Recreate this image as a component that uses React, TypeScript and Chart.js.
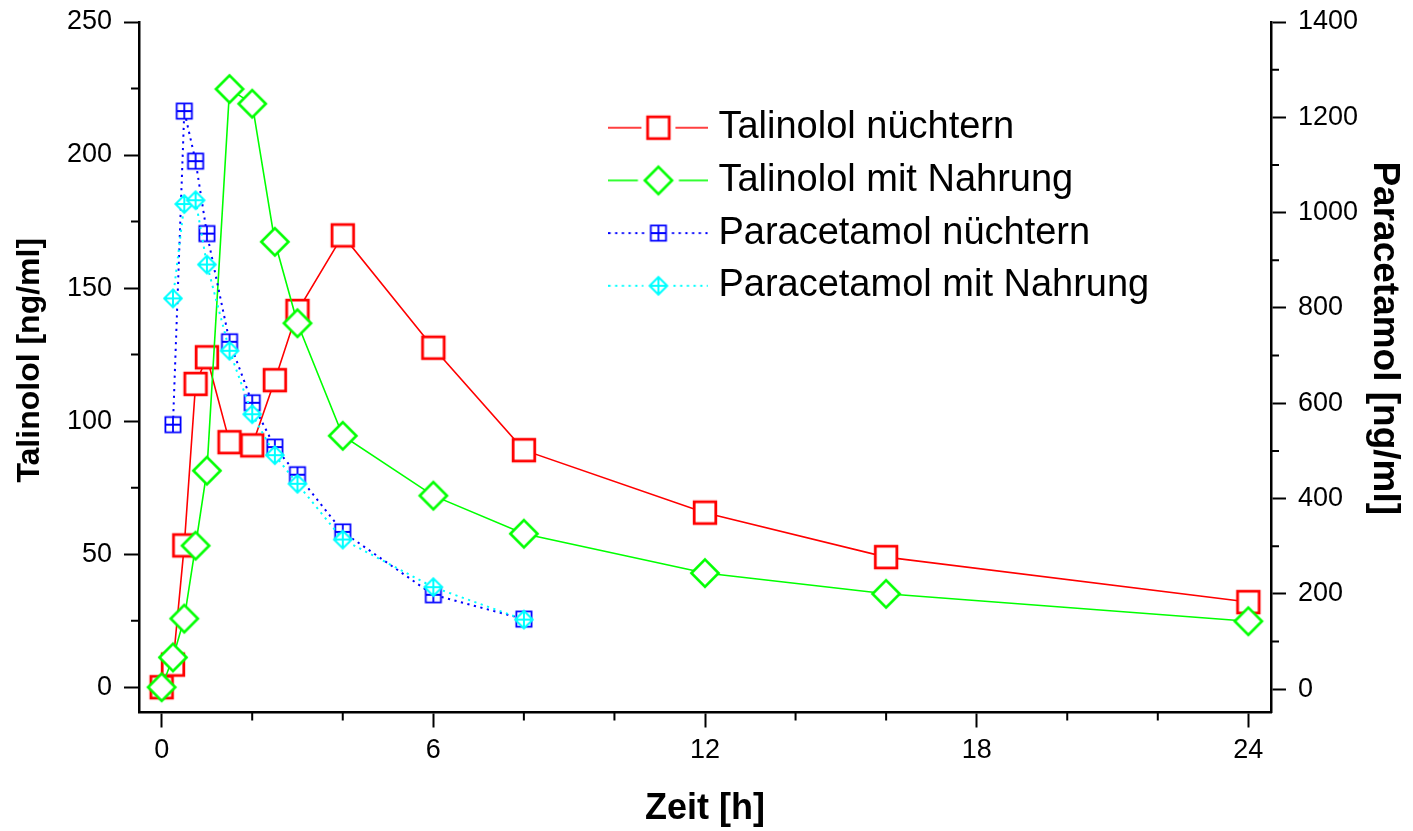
import React, { useEffect, useRef } from 'react';
import { Chart, registerables } from 'chart.js';

Chart.register(...registerables);

// ---------- data ----------
const timeTalinolol = [0, 0.25, 0.5, 0.75, 1, 1.5, 2, 2.5, 3, 4, 6, 8, 12, 16, 24];
const talinololNuechtern = [0, 8.5, 53.3, 114, 124, 92.1, 90.9, 115.4, 141.4, 169.8, 127.6, 89.1, 65.6, 48.9, 32];
const talinololNahrung = [0, 11.2, 25.8, 53.2, 81.4, 224.8, 219.3, 167.4, 136.8, 94.5, 72, 57.7, 42.9, 35.1, 24.8];

const timeParacetamol = [0.25, 0.5, 0.75, 1, 1.5, 2, 2.5, 3, 4, 6, 8];
const paracetamolNuechtern = [555, 1213, 1108, 956, 729, 601, 508, 450, 330, 198, 147];
const paracetamolNahrung = [820, 1018, 1026, 891, 710, 577, 491, 431, 314, 214, 146];

const seriesLabels = ['Talinolol nüchtern', 'Talinolol mit Nahrung', 'Paracetamol nüchtern', 'Paracetamol mit Nahrung'];

const xTickValues = [0, 6, 12, 18, 24];
const xMinorTickValues = [2, 4, 8, 10, 14, 16, 20, 22];
const leftTickValues = [0, 50, 100, 150, 200, 250];
const leftMinorTickValues = [25, 75, 125, 175, 225];
const rightTickValues = [0, 200, 400, 600, 800, 1000, 1200, 1400];
const rightMinorTickValues = [100, 300, 500, 700, 900, 1100, 1300];

const xTitle = 'Zeit [h]';
const leftTitle = 'Talinolol [ng/ml]';
const rightTitle = 'Paracetamol [ng/ml]';

// ---------- styles ----------
const RED = '#ff0000';
const GREEN = '#00ff00';
const BLUE = '#0000ff';
const CYAN = '#00ffff';
const FONT = "'Liberation Sans', Arial, Helvetica, sans-serif";

type Kind = 'square' | 'diamond' | 'squareCross' | 'diamondCross';

function paintMarker(ctx: CanvasRenderingContext2D, kind: Kind, color: string, cx: number, cy: number) {
  ctx.save();
  ctx.setLineDash([]);
  ctx.lineJoin = 'miter';
  ctx.fillStyle = '#ffffff';
  ctx.strokeStyle = color;
  if (kind === 'square') {
    const h = 10.8;
    ctx.lineWidth = 2.8;
    ctx.beginPath();
    ctx.rect(cx - h, cy - h, 2 * h, 2 * h);
    ctx.fill();
    ctx.stroke();
  } else if (kind === 'diamond') {
    const h = 13.6;
    ctx.lineWidth = 2.6;
    ctx.beginPath();
    ctx.moveTo(cx, cy - h);
    ctx.lineTo(cx + h, cy);
    ctx.lineTo(cx, cy + h);
    ctx.lineTo(cx - h, cy);
    ctx.closePath();
    ctx.fill();
    ctx.stroke();
  } else if (kind === 'squareCross') {
    const h = 7.6;
    ctx.lineWidth = 1.8;
    ctx.beginPath();
    ctx.rect(cx - h, cy - h, 2 * h, 2 * h);
    ctx.fill();
    ctx.stroke();
    ctx.beginPath();
    ctx.moveTo(cx - h, cy);
    ctx.lineTo(cx + h, cy);
    ctx.moveTo(cx, cy - h);
    ctx.lineTo(cx, cy + h);
    ctx.stroke();
  } else {
    const h = 8.8;
    ctx.lineWidth = 2;
    ctx.beginPath();
    ctx.moveTo(cx, cy - h);
    ctx.lineTo(cx + h, cy);
    ctx.lineTo(cx, cy + h);
    ctx.lineTo(cx - h, cy);
    ctx.closePath();
    ctx.fill();
    ctx.stroke();
    ctx.beginPath();
    ctx.moveTo(cx - h, cy);
    ctx.lineTo(cx + h, cy);
    ctx.moveTo(cx, cy - h);
    ctx.lineTo(cx, cy + h);
    ctx.stroke();
  }
  ctx.restore();
}

function makeMarker(kind: Kind, color: string, size: number) {
  const c = document.createElement('canvas');
  c.width = size;
  c.height = size;
  const ctx = c.getContext('2d') as CanvasRenderingContext2D;
  paintMarker(ctx, kind, color, size / 2, size / 2);
  return c;
}

function makeLegendSample(kind: Kind, color: string, dash: number[], lw: number, half: number) {
  const c = document.createElement('canvas');
  c.width = 100;
  c.height = 40;
  const ctx = c.getContext('2d') as CanvasRenderingContext2D;
  const cx = 50;
  const cy = 20;
  const gap = 5;
  ctx.strokeStyle = color;
  ctx.lineWidth = lw;
  ctx.setLineDash(dash);
  ctx.beginPath();
  ctx.moveTo(0, cy);
  ctx.lineTo(cx - half - gap, cy);
  ctx.stroke();
  ctx.beginPath();
  ctx.moveTo(cx + half + gap, cy);
  ctx.lineTo(100, cy);
  ctx.stroke();
  paintMarker(ctx, kind, color, cx, cy);
  return c;
}

// shift a scale's own title along the axis (the title is still drawn by Chart.js)
function shiftTitle(scale: any, dy: number) {
  if (scale.__titleShifted) return;
  const orig = Object.getPrototypeOf(scale).drawTitle;
  scale.drawTitle = function () {
    this.ctx.save();
    this.ctx.translate(0, dy);
    orig.call(this);
    this.ctx.restore();
  };
  scale.__titleShifted = true;
}

export default function App() {
  const canvasRef = useRef<HTMLCanvasElement | null>(null);

  useEffect(() => {
    const canvas = canvasRef.current;
    if (!canvas) return;

    const markers = [
      makeMarker('square', RED, 28),
      makeMarker('diamond', GREEN, 34),
      makeMarker('squareCross', BLUE, 20),
      makeMarker('diamondCross', CYAN, 24),
    ];
    const legendSamples = [
      makeLegendSample('square', RED, [], 1.6, 12),
      makeLegendSample('diamond', GREEN, [], 1.6, 15.5),
      makeLegendSample('squareCross', BLUE, [2.2, 4.5], 2, 8.5),
      makeLegendSample('diamondCross', CYAN, [2.2, 4.5], 2, 10),
    ];

    const minorTicks = {
      id: 'minorTicks',
      afterDraw(chart: any) {
        const { ctx, chartArea } = chart;
        const xs = chart.scales.x;
        const yl = chart.scales.y;
        const yr = chart.scales.y2;
        ctx.save();
        ctx.strokeStyle = '#000';
        ctx.lineWidth = 2;
        ctx.beginPath();
        xMinorTickValues.forEach((v) => {
          const px = xs.getPixelForValue(v);
          ctx.moveTo(px, chartArea.bottom);
          ctx.lineTo(px, chartArea.bottom + 8);
        });
        leftMinorTickValues.forEach((v) => {
          const py = yl.getPixelForValue(v);
          ctx.moveTo(chartArea.left, py);
          ctx.lineTo(chartArea.left - 8, py);
        });
        rightMinorTickValues.forEach((v) => {
          const py = yr.getPixelForValue(v);
          ctx.moveTo(chartArea.right, py);
          ctx.lineTo(chartArea.right + 8, py);
        });
        ctx.stroke();
        ctx.restore();
      },
    };

    const legendPlacer = {
      id: 'legendPlacer',
      afterLayout(chart: any) {
        const lg = chart.legend;
        if (!lg) return;
        const w = lg.width;
        const h = lg.height;
        lg.left = 602.7;
        lg.top = 94;
        lg.right = lg.left + w;
        lg.bottom = lg.top + h;
      },
    };

    const axisGrid = {
      display: true,
      drawOnChartArea: false,
      drawTicks: true,
      tickLength: 15,
      tickWidth: 2,
      tickColor: '#000',
    };
    const axisBorder = { display: true, color: '#000', width: 2.5 };
    const tickFont = { family: FONT, size: 27 };

    const chart = new Chart(canvas, {
      type: 'line',
      data: {
        datasets: [
          {
            label: seriesLabels[0],
            data: timeTalinolol.map((t, i) => ({ x: t, y: talinololNuechtern[i] })),
            yAxisID: 'y',
            borderColor: RED,
            backgroundColor: '#ffffff',
            borderWidth: 1.6,
            pointStyle: markers[0] as any,
            pointRadius: 12,
            pointHoverRadius: 12,
            tension: 0,
            fill: false,
            order: 3,
          },
          {
            label: seriesLabels[1],
            data: timeTalinolol.map((t, i) => ({ x: t, y: talinololNahrung[i] })),
            yAxisID: 'y',
            borderColor: GREEN,
            backgroundColor: '#ffffff',
            borderWidth: 1.6,
            pointStyle: markers[1] as any,
            pointRadius: 14,
            pointHoverRadius: 14,
            tension: 0,
            fill: false,
            order: 2,
          },
          {
            label: seriesLabels[2],
            data: timeParacetamol.map((t, i) => ({ x: t, y: paracetamolNuechtern[i] })),
            yAxisID: 'y2',
            borderColor: BLUE,
            backgroundColor: '#ffffff',
            borderWidth: 2,
            borderDash: [2.2, 4.5],
            pointStyle: markers[2] as any,
            pointRadius: 8,
            pointHoverRadius: 8,
            tension: 0,
            fill: false,
            order: 1,
          },
          {
            label: seriesLabels[3],
            data: timeParacetamol.map((t, i) => ({ x: t, y: paracetamolNahrung[i] })),
            yAxisID: 'y2',
            borderColor: CYAN,
            backgroundColor: '#ffffff',
            borderWidth: 2,
            borderDash: [2.2, 4.5],
            pointStyle: markers[3] as any,
            pointRadius: 9,
            pointHoverRadius: 9,
            tension: 0,
            fill: false,
            order: 0,
          },
        ],
      },
      options: {
        responsive: false,
        maintainAspectRatio: false,
        devicePixelRatio: 1,
        animation: false,
        events: [],
        layout: { padding: { top: 22, left: 0, right: 0, bottom: 0 } },
        scales: {
          x: {
            type: 'linear',
            position: 'bottom',
            min: -0.5,
            max: 24.5,
            afterBuildTicks: (s: any) => {
              s.ticks = xTickValues.map((v) => ({ value: v }));
            },
            afterFit: (s: any) => {
              s.height = 118.5;
              s.paddingLeft = 0;
              s.paddingRight = 0;
            },
            ticks: {
              font: tickFont,
              color: '#000',
              padding: 7,
              maxRotation: 0,
              autoSkip: false,
              callback: (v: any) => String(v),
            },
            grid: axisGrid,
            border: axisBorder,
            title: {
              display: true,
              text: xTitle,
              font: { family: FONT, size: 36, weight: 'bold' },
              color: '#000',
              padding: { top: 0, bottom: 0 },
            },
          },
          y: {
            type: 'linear',
            position: 'left',
            min: -9.5,
            max: 250,
            afterBuildTicks: (s: any) => {
              s.ticks = leftTickValues.map((v) => ({ value: v }));
            },
            afterFit: (s: any) => {
              s.width = 139;
              s.paddingTop = 0;
              s.paddingBottom = 0;
              shiftTitle(s, -7);
            },
            ticks: {
              font: tickFont,
              color: '#000',
              padding: 12,
              autoSkip: false,
              callback: (v: any) => String(v),
            },
            grid: axisGrid,
            border: axisBorder,
            title: {
              display: true,
              text: leftTitle,
              font: { family: FONT, size: 32, weight: 'bold' },
              color: '#000',
              padding: { top: 11, bottom: 0 },
            },
          },
          y2: {
            type: 'linear',
            position: 'right',
            min: -49,
            max: 1400,
            afterBuildTicks: (s: any) => {
              s.ticks = rightTickValues.map((v) => ({ value: v }));
            },
            afterFit: (s: any) => {
              s.width = 142;
              s.paddingTop = 0;
              s.paddingBottom = 0;
              shiftTitle(s, -29);
            },
            ticks: {
              font: tickFont,
              color: '#000',
              padding: 12,
              autoSkip: false,
              callback: (v: any) => String(v),
            },
            grid: axisGrid,
            border: axisBorder,
            title: {
              display: true,
              text: rightTitle,
              font: { family: FONT, size: 37, weight: 'bold' },
              color: '#000',
              padding: { top: 7, bottom: 0 },
            },
          },
        },
        plugins: {
          tooltip: { enabled: false },
          legend: {
            display: true,
            position: 'chartArea' as any,
            align: 'start',
            labels: {
              usePointStyle: true,
              pointStyleWidth: 82,
              padding: 14.7,
              color: '#000',
              font: { family: FONT, size: 38 },
              sort: (a: any, b: any) => a.datasetIndex - b.datasetIndex,
              generateLabels: (ch: any) => {
                const base = (Chart.defaults.plugins.legend.labels as any).generateLabels(ch);
                return base.map((it: any) => ({
                  ...it,
                  pointStyle: legendSamples[it.datasetIndex],
                  fontColor: '#000',
                }));
              },
            },
          },
        },
      },
      plugins: [minorTicks, legendPlacer],
    } as any);

    return () => {
      chart.destroy();
    };
  }, []);

  return (
    <div style={{ position: 'absolute', left: 0, top: 0, width: 1413, height: 831, background: '#fff' }}>
      <canvas ref={canvasRef} width={1413} height={831} style={{ display: 'block', width: 1413, height: 831 }} />
    </div>
  );
}
